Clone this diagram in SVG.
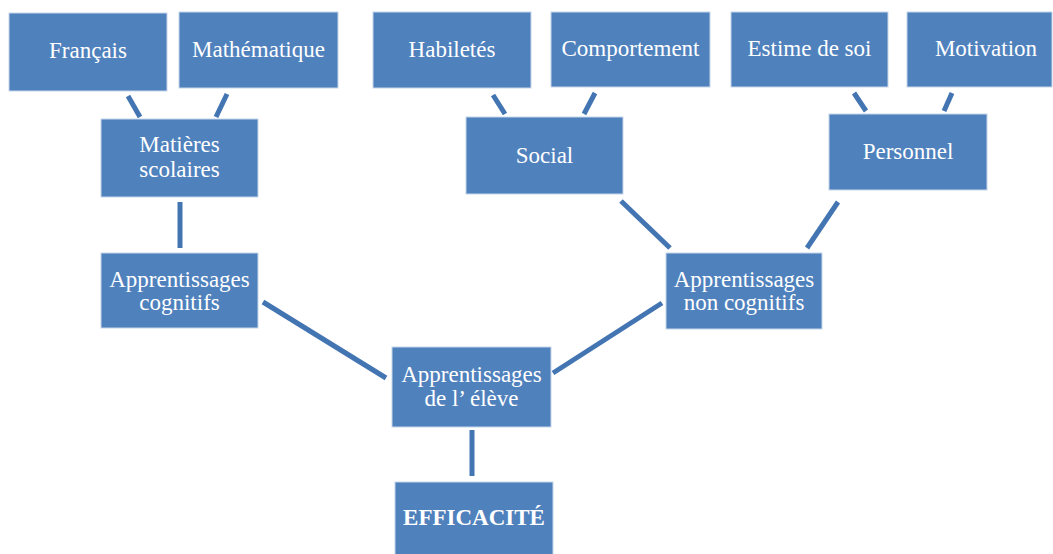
<svg xmlns="http://www.w3.org/2000/svg" width="1053" height="554" viewBox="0 0 1053 554">
  <style>
    .box { fill: #4f81bd; stroke: #c6d5ea; stroke-width: 1; }
    .lbl { font-family: "Liberation Serif", "Times New Roman", serif; font-size: 23px; fill: #ffffff; text-anchor: middle; }
    .bold { font-weight: bold; }
    .link { stroke: #4475b3; stroke-width: 5; stroke-linecap: butt; fill: none; }
  </style>
  <rect width="1053" height="554" fill="#ffffff"/>

  <!-- connectors -->
  <g id="connectors">
    <line class="link" x1="128" y1="96" x2="140" y2="117"/>
    <line class="link" x1="227" y1="94" x2="216" y2="117"/>
    <line class="link" x1="493" y1="95" x2="505" y2="114"/>
    <line class="link" x1="595" y1="93" x2="584" y2="114"/>
    <line class="link" x1="854" y1="93" x2="866" y2="111"/>
    <line class="link" x1="952" y1="93" x2="944" y2="111"/>
    <line class="link" x1="180" y1="202" x2="180" y2="248"/>
    <line class="link" x1="621" y1="201" x2="670" y2="248"/>
    <line class="link" x1="838" y1="202" x2="807" y2="248"/>
    <line class="link" x1="263" y1="302" x2="386" y2="378"/>
    <line class="link" x1="662" y1="303" x2="553" y2="373"/>
    <line class="link" x1="472" y1="430" x2="472" y2="476"/>
  </g>

  <g id="francais">
    <rect class="box" x="9" y="13" width="158" height="78"/>
    <text class="lbl" x="88" y="58">Français</text>
  </g>
  <g id="mathematique">
    <rect class="box" x="179" y="12" width="159" height="76"/>
    <text class="lbl" x="258.5" y="57">Mathématique</text>
  </g>
  <g id="habiletes">
    <rect class="box" x="373" y="12" width="158" height="76"/>
    <text class="lbl" x="452" y="57">Habiletés</text>
  </g>
  <g id="comportement">
    <rect class="box" x="551" y="12" width="159" height="75"/>
    <text class="lbl" x="630.5" y="56">Comportement</text>
  </g>
  <g id="estime">
    <rect class="box" x="731" y="12" width="157" height="75"/>
    <text class="lbl" x="809.5" y="56">Estime de soi</text>
  </g>
  <g id="motivation">
    <rect class="box" x="907" y="12" width="145" height="75"/>
    <text class="lbl" x="986" y="56">Motivation</text>
  </g>

  <g id="matieres">
    <rect class="box" x="101" y="119" width="157" height="78"/>
    <text class="lbl" x="179.5" y="152">Matières</text>
    <text class="lbl" x="179.5" y="177">scolaires</text>
  </g>
  <g id="social">
    <rect class="box" x="466" y="117" width="157" height="77"/>
    <text class="lbl" x="544.5" y="163">Social</text>
  </g>
  <g id="personnel">
    <rect class="box" x="829" y="114" width="158" height="76"/>
    <text class="lbl" x="908" y="159">Personnel</text>
  </g>

  <g id="cognitifs">
    <rect class="box" x="101" y="253" width="157" height="75"/>
    <text class="lbl" x="179.5" y="287">Apprentissages</text>
    <text class="lbl" x="179.5" y="310">cognitifs</text>
  </g>
  <g id="non-cognitifs">
    <rect class="box" x="666" y="253" width="156" height="76"/>
    <text class="lbl" x="744" y="287">Apprentissages</text>
    <text class="lbl" x="744" y="310">non cognitifs</text>
  </g>

  <g id="eleve">
    <rect class="box" x="392" y="347" width="159" height="80"/>
    <text class="lbl" x="471.5" y="382">Apprentissages</text>
    <text class="lbl" x="471.5" y="406">de l’ élève</text>
  </g>
  <g id="efficacite">
    <rect class="box" x="395" y="482" width="158" height="74"/>
    <text class="lbl bold" x="474" y="525">EFFICACITÉ</text>
  </g>
</svg>
